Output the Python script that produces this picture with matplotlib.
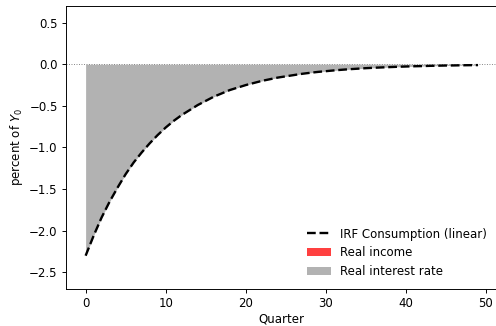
import matplotlib
matplotlib.use("Agg")
import matplotlib.pyplot as plt
import numpy as np

quarters = list(range(50))
irf_consumption = [-2.30, -2.06, -1.84, -1.65, -1.48, -1.32, -1.18, -1.06, -0.95, -0.85,
                   -0.76, -0.68, -0.61, -0.55, -0.49, -0.44, -0.39, -0.35, -0.31, -0.28,
                   -0.25, -0.225, -0.20, -0.18, -0.16, -0.145, -0.13, -0.115, -0.103, -0.092,
                   -0.083, -0.074, -0.066, -0.059, -0.053, -0.047, -0.042, -0.038, -0.034, -0.030,
                   -0.027, -0.024, -0.022, -0.019, -0.017, -0.015, -0.014, -0.012, -0.011, -0.010]
real_income = [0.0] * 50
real_interest = irf_consumption

DPI = 85
fig = plt.figure(figsize=(496/DPI, 326/DPI), dpi=DPI)
ax = fig.add_axes([66/496, 37/326, 431.6/496, 283/326])

x = np.array(quarters)
ri = np.array(real_income)
rr = np.array(real_interest)
ax.fill_between(x, 0, ri, color="#ff4040", linewidth=0, label="Real income")
ax.fill_between(x, ri, ri + rr, color="#b2b2b2", linewidth=0, label="Real interest rate")
ax.plot(x, irf_consumption, color="black", linestyle="--", linewidth=2, label="IRF Consumption (linear)", zorder=3)
ax.axhline(0, color="gray", linestyle=":", linewidth=0.8)

ax.set_xlim(-2.45, 51.45)
ax.set_ylim(-2.7, 0.7)
ax.set_xticks([0, 10, 20, 30, 40, 50])
ax.set_yticks([-2.5, -2.0, -1.5, -1.0, -0.5, 0.0, 0.5])
ax.set_xlabel("Quarter", labelpad=1.5)
ax.set_ylabel("percent of $Y_0$")

h, l = ax.get_legend_handles_labels()
order = [2, 0, 1]
ax.legend([h[i] for i in order], [l[i] for i in order], loc="lower right", frameon=False)

fig.savefig("out.png", dpi=DPI)
